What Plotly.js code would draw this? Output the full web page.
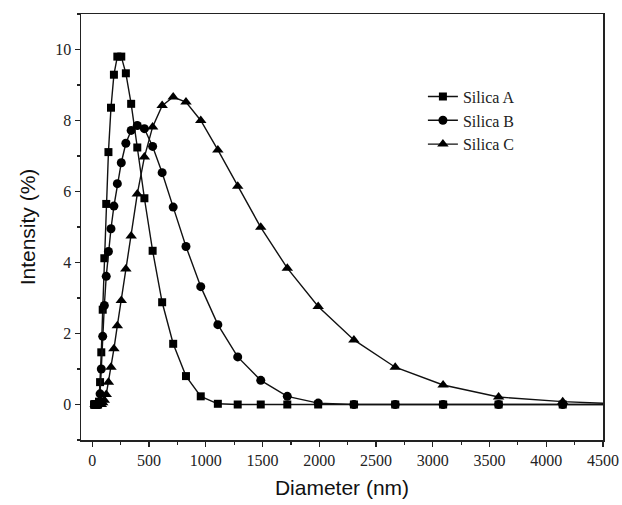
<!DOCTYPE html>
<html>
<head>
<meta charset="utf-8">
<script src="https://cdn.plot.ly/plotly-3.0.1.min.js"></script>
<style>html,body{margin:0;padding:0;background:#fff;}#chart{width:622px;height:505px;}</style>
</head>
<body>
<div id="chart"></div>
<script>
// Diameter (nm) sample points
const diamA = [15.69, 18.17, 21.04, 24.36, 28.21, 32.67, 37.84, 43.82, 50.75, 58.77, 68.06, 78.82, 91.28, 105.7, 122.4, 141.8, 164.2, 190.1, 220.2, 255.0, 295.3, 342.0, 396.1, 458.7, 531.2, 615.1, 712.4, 825.0, 955.4, 1106, 1281, 1484, 1718, 1990, 2305, 2669, 3091, 3580, 4145, 4801];
const intensityA = [0, 0, 0, 0, 0, 0, 0, 0, 0, 0.08, 0.63, 1.47, 2.67, 4.12, 5.65, 7.11, 8.36, 9.29, 9.80, 9.80, 9.33, 8.47, 7.24, 5.81, 4.33, 2.88, 1.71, 0.80, 0.23, 0.02, 0, 0, 0, 0, 0, 0, 0, 0, 0, 0];

const diamB = [21.04, 24.36, 28.21, 32.67, 37.84, 43.82, 50.75, 58.77, 68.06, 78.82, 91.28, 105.7, 122.4, 141.8, 164.2, 190.1, 220.2, 255.0, 295.3, 342.0, 396.1, 458.7, 531.2, 615.1, 712.4, 825.0, 955.4, 1106, 1281, 1484, 1718, 1990, 2305, 2669, 3091, 3580, 4145, 4801];
const intensityB = [0, 0, 0, 0, 0, 0, 0, 0.05, 0.3, 1.0, 1.92, 2.79, 3.61, 4.31, 4.95, 5.59, 6.22, 6.81, 7.36, 7.72, 7.86, 7.77, 7.27, 6.53, 5.56, 4.45, 3.32, 2.25, 1.34, 0.68, 0.23, 0.04, 0, 0, 0, 0, 0, 0];

const diamC = [24.36, 28.21, 32.67, 37.84, 43.82, 50.75, 58.77, 68.06, 78.82, 91.28, 105.7, 122.4, 141.8, 164.2, 190.1, 220.2, 255.0, 295.3, 342.0, 396.1, 458.7, 531.2, 615.1, 712.4, 825.0, 955.4, 1106, 1281, 1484, 1718, 1990, 2305, 2669, 3091, 3580, 4145, 4801];
const intensityC = [0, 0, 0, 0, 0, 0, 0, 0, 0, 0.05, 0.12, 0.28, 0.63, 1.05, 1.57, 2.22, 2.93, 3.82, 4.75, 5.93, 6.97, 7.82, 8.42, 8.66, 8.52, 8.0, 7.17, 6.15, 4.99, 3.84, 2.76, 1.82, 1.05, 0.55, 0.21, 0.08, 0];

const seriesNames = ["Silica A", "Silica B", "Silica C"];

const lineStyle = {color: "#111", width: 1.4};
const traces = [
  {x: diamA, y: intensityA, name: seriesNames[0], mode: "lines+markers", line: lineStyle,
   marker: {symbol: "square", size: 8, color: "#000"}},
  {x: diamB, y: intensityB, name: seriesNames[1], mode: "lines+markers", line: lineStyle,
   marker: {symbol: "circle", size: 9, color: "#000"}},
  {x: diamC, y: intensityC, name: seriesNames[2], mode: "lines+markers", line: lineStyle,
   marker: {symbol: "triangle-up", size: 10, color: "#000"}}
];

const tickFont = {family: "Liberation Serif, Times New Roman, serif", size: 16, color: "#222"};
const titleFont = {family: "Liberation Sans, Arial, sans-serif", size: 21, color: "#111"};

const layout = {
  width: 622, height: 505,
  margin: {l: 81, r: 19, t: 14, b: 65},
  paper_bgcolor: "#fff", plot_bgcolor: "#fff",
  showlegend: true,
  legend: {x: 0.655, y: 0.846, xanchor: "left", yanchor: "top", bgcolor: "rgba(0,0,0,0)",
           font: {family: "Liberation Serif, Times New Roman, serif", size: 16, color: "#222"},
           tracegroupgap: 0},
  xaxis: {
    range: [-100, 4500], tickvals: [0,500,1000,1500,2000,2500,3000,3500,4000,4500],
    ticks: "outside", ticklen: 5, tickwidth: 1.2, tickcolor: "#222",
    minor: {dtick: 250, tick0: 0, ticks: "outside", ticklen: 3, tickwidth: 1.2, tickcolor: "#222", showgrid: false},
    showline: true, linecolor: "#222", linewidth: 1.5, mirror: true,
    showgrid: false, zeroline: false, tickfont: tickFont,
    title: {text: "Diameter (nm)", font: titleFont, standoff: 12}
  },
  yaxis: {
    range: [-1, 11], tickvals: [0,2,4,6,8,10],
    ticks: "outside", ticklen: 5, tickwidth: 1.2, tickcolor: "#222",
    minor: {dtick: 1, tick0: 0, ticks: "outside", ticklen: 3, tickwidth: 1.2, tickcolor: "#222", showgrid: false},
    showline: true, linecolor: "#222", linewidth: 1.5, mirror: true,
    showgrid: false, zeroline: false, tickfont: tickFont,
    title: {text: "Intensity (%)", font: titleFont, standoff: 14}
  }
};

Plotly.newPlot("chart", traces, layout, {displayModeBar: false, staticPlot: true});
</script>
</body>
</html>
